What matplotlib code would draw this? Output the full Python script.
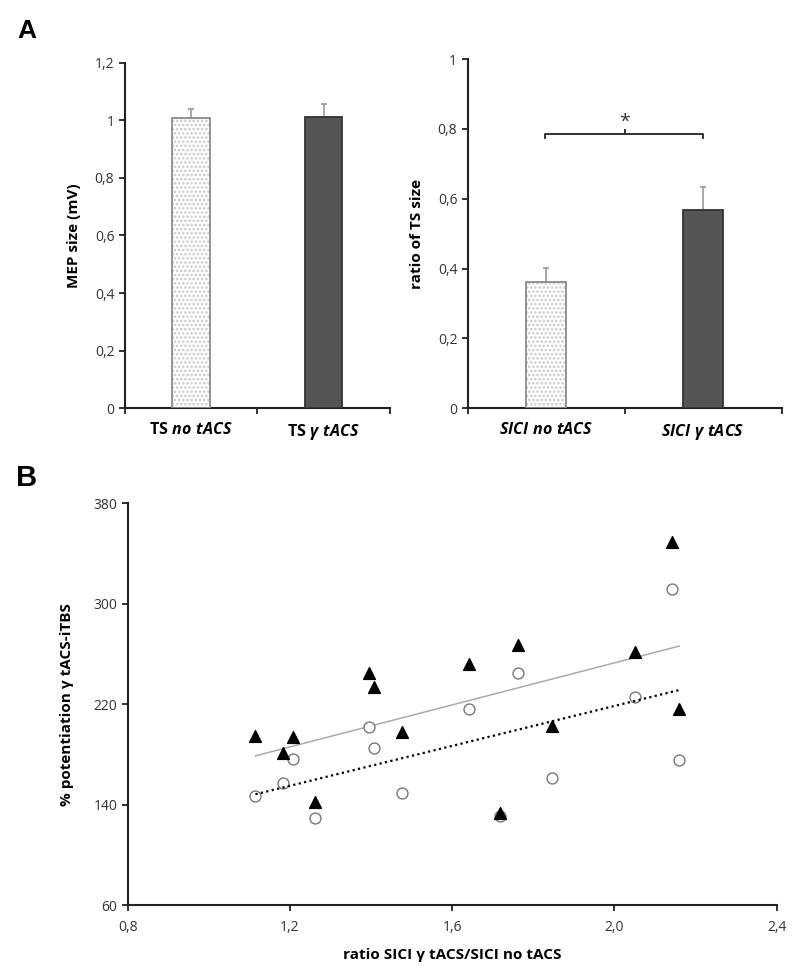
import matplotlib
matplotlib.use("Agg")
import matplotlib.pyplot as plt
import numpy as np

plt.rcParams['font.family'] = ['Open Sans', 'DejaVu Sans']
plt.rcParams['mathtext.fontset'] = 'custom'
plt.rcParams['mathtext.bf'] = 'Open Sans:bold'
plt.rcParams['mathtext.it'] = 'Open Sans:italic:bold'
plt.rcParams['mathtext.rm'] = 'Open Sans:bold'
plt.rcParams['hatch.linewidth'] = 1.2

# ---------------- data ----------------
# Panel A left: MEP size
ts_labels = [r"$\mathbf{TS}\ \mathit{no\ tACS}$", r"$\mathbf{TS}\ \mathit{\gamma\ tACS}$"]
ts_values = [1.008, 1.012]
ts_err = [0.031, 0.046]
ts_yticks = [0, 0.2, 0.4, 0.6, 0.8, 1.0, 1.2]
ts_yticklabels = ["0", "0,2", "0,4", "0,6", "0,8", "1", "1,2"]

# Panel A right: SICI ratio
sici_labels = [r"$\mathit{SICI\ no\ tACS}$", r"$\mathit{SICI\ \gamma\ tACS}$"]
sici_values = [0.362, 0.568]
sici_err = [0.039, 0.065]
sici_yticks = [0, 0.2, 0.4, 0.6, 0.8, 1.0]
sici_yticklabels = ["0", "0,2", "0,4", "0,6", "0,8", "1"]

# Panel B: scatter
ratio_x = [1.115, 1.183, 1.207, 1.261, 1.395, 1.408, 1.477,
           1.641, 1.719, 1.762, 1.847, 2.050, 2.141, 2.160]
pot_triangle = [194.9, 180.8, 193.6, 141.8, 245.1, 233.9, 197.6,
                252.0, 133.0, 267.1, 202.8, 261.3, 349.4, 215.9]
pot_circle = [146.8, 157.0, 176.1, 129.1, 202.0, 185.1, 149.5,
              216.4, 130.9, 245.1, 161.4, 226.0, 311.5, 175.5]
b_xticks = [0.8, 1.2, 1.6, 2.0, 2.4]
b_xticklabels = ["0,8", "1,2", "1,6", "2,0", "2,4"]
b_yticks = [60, 140, 220, 300, 380]
b_yticklabels = ["60", "140", "220", "300", "380"]

# ---------------- figure ----------------
fig = plt.figure(figsize=(8, 9.76), dpi=100)

axL = fig.add_axes([0.1559, 0.5817, 0.3316, 0.3541])
axR = fig.add_axes([0.5846, 0.5817, 0.3925, 0.3578])
axB = fig.add_axes([0.1596, 0.0727, 0.8113, 0.4116])

spine_c = '#222222'
tick_c = '#333333'

def style(ax):
    for s in ['top', 'right']:
        ax.spines[s].set_visible(False)
    for s in ['left', 'bottom']:
        ax.spines[s].set_linewidth(1.5)
        ax.spines[s].set_color(spine_c)
    ax.tick_params(direction='out', length=4, width=1.3, color=spine_c,
                   labelsize=10, labelcolor=tick_c)

def bars(ax, values, errs, width, labels):
    pos = [0.5, 1.5]
    # light stippled bar
    ax.bar(pos[0], values[0], width, color='white', edgecolor='#c8c8c8',
           hatch='....', linewidth=0, zorder=2)
    ax.bar(pos[0], values[0], width, fill=False, edgecolor='#8a8a8a',
           linewidth=1.3, zorder=3)
    ax.bar(pos[1], values[1], width, color='#555555', edgecolor='#333333',
           linewidth=1.3, zorder=3)
    ax.errorbar(pos, values, yerr=[[0, 0], errs], fmt='none',
                ecolor='#9a9a9a', elinewidth=1.2, capsize=2.5, capthick=1.2,
                zorder=1)
    ax.set_xlim(0, 2)
    ax.set_xticks([0, 1, 2])
    ax.set_xticklabels([])
    ax.set_xticks(pos, minor=True)
    ax.set_xticklabels(labels, minor=True, fontsize=11.5, color='black')
    ax.tick_params(axis='x', which='minor', length=0, pad=10)

style(axL)
bars(axL, ts_values, ts_err, 0.28, ts_labels)
axL.set_ylim(0, 1.2)
axL.set_yticks(ts_yticks)
axL.set_yticklabels(ts_yticklabels)
axL.set_ylabel("MEP size (mV)", fontsize=11, fontweight='bold', labelpad=10)

style(axR)
bars(axR, sici_values, sici_err, 0.255, sici_labels)
axR.set_ylim(0, 1.0)
axR.set_yticks(sici_yticks)
axR.set_yticklabels(sici_yticklabels)
axR.set_ylabel("ratio of TS size", fontsize=11, fontweight='bold', labelpad=10)
# significance bracket
axR.plot([0.492, 0.492, 1.497, 1.497], [0.773, 0.785, 0.785, 0.773],
         color='#333333', lw=1.4, clip_on=False)
axR.plot([1.0, 1.0], [0.785, 0.797], color='#333333', lw=1.4, clip_on=False)
axR.text(1.0, 0.795, "*", ha='center', va='bottom', fontsize=14, color='#333333')

# Panel B
style(axB)
xs = np.array(ratio_x)
axB.scatter(xs, pot_circle, marker='o', s=62, facecolors='white',
            edgecolors='#777777', linewidths=1.0, zorder=3)
axB.scatter(xs, pot_triangle, marker='^', s=72, color='black', zorder=4)
xl = np.array([xs.min(), xs.max()])
pt = np.polyfit(xs, pot_triangle, 1)
pc = np.polyfit(xs, pot_circle, 1)
axB.plot(xl, np.polyval(pt, xl), color='#aaaaaa', lw=1.1, zorder=2)
axB.plot(xl, np.polyval(pc, xl), color='black', lw=1.6, ls=(0, (1, 1.5)), zorder=5)
axB.set_xlim(0.8, 2.4)
axB.set_ylim(60, 380)
axB.set_xticks(b_xticks)
axB.set_xticklabels(b_xticklabels)
axB.set_yticks(b_yticks)
axB.set_yticklabels(b_yticklabels)
axB.tick_params(axis='x', pad=7)
axB.set_xlabel("ratio SICI γ tACS/SICI no tACS", fontsize=11, fontweight='bold', labelpad=9)
axB.set_ylabel("% potentiation γ tACS-iTBS", fontsize=11, fontweight='bold', labelpad=14)

fig.text(27 / 800, 1 - 31 / 976, "A", fontsize=19, fontweight='bold', ha='center', va='center',
         family=['Liberation Sans', 'DejaVu Sans'])
fig.text(27 / 800, 1 - 478 / 976, "B", fontsize=21, fontweight='bold', ha='center', va='center',
         family=['Liberation Sans', 'DejaVu Sans'])

fig.savefig("out.png", dpi=100)
